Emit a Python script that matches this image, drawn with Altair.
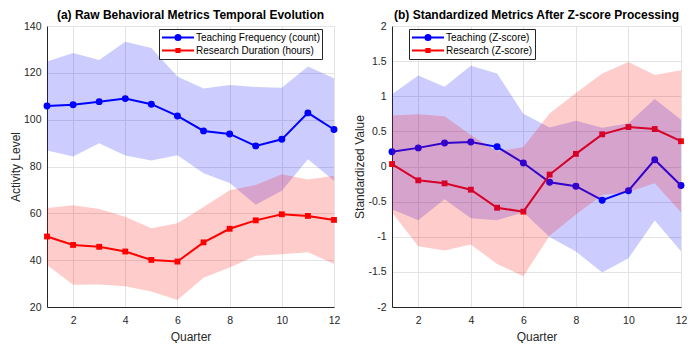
import altair as alt
import pandas as pd

quarters = list(range(1, 13))

# Panel (a): raw metrics (mean and spread)
teach_mean = [105.8, 106.4, 107.7, 109.0, 106.6, 101.6, 95.2, 93.9, 88.8, 91.6, 102.9, 95.8]
teach_std = [19.0, 22.1, 17.8, 24.3, 24.0, 16.8, 18.1, 20.9, 25.1, 22.0, 19.8, 21.9]
res_mean = [50.1, 46.5, 45.7, 43.7, 40.1, 39.4, 47.6, 53.4, 57.0, 59.6, 58.9, 57.2]
res_std = [12.2, 17.0, 16.1, 14.8, 13.5, 16.4, 15.1, 16.5, 15.1, 17.1, 15.5, 18.8]

# Panel (b): z-scores (mean and spread)
tz_mean = [0.21, 0.265, 0.335, 0.35, 0.28, 0.05, -0.225, -0.28, -0.48, -0.345, 0.095, -0.27]
tz_std = [0.82, 1.03, 0.80, 1.085, 1.045, 0.70, 0.78, 0.93, 1.03, 0.96, 0.865, 0.935]
rz_mean = [0.035, -0.197, -0.24, -0.33, -0.587, -0.643, -0.115, 0.18, 0.458, 0.562, 0.533, 0.36]
rz_std = [0.69, 0.94, 0.955, 0.78, 0.80, 0.92, 0.87, 0.865, 0.865, 0.925, 0.77, 1.01]

series_a = ["Teaching Frequency (count)", "Research Duration (hours)"]
series_b = ["Teaching (Z-score)", "Research (Z-score)"]
colors = ["#0000ff", "#ff0000"]
band_colors = ["#0000ff", "#ff0000"]

FONT = "Liberation Sans"
AX = "#262626"

# legend symbols: line with marker (normalized path, scaled by sqrt(size)/2)
leg_circle = "M-1,0L1,0M0.16,0A0.16,0.16,0,1,1,-0.16,0A0.16,0.16,0,1,1,0.16,0Z"
leg_square = "M-1,0L1,0M-0.1,-0.1L0.1,-0.1L0.1,0.1L-0.1,0.1Z"


def make_df(names, means, stds):
    rows = []
    for name, m, s in zip(names, means, stds):
        for q, mv, sv in zip(quarters, m, s):
            rows.append({"quarter": q, "series": name, "mean": mv,
                         "lo": mv - sv, "hi": mv + sv})
    return pd.DataFrame(rows)


def panel(df, names, title, ytitle, ydomain, ystep, legx, width):
    xenc = alt.X("quarter:Q", scale=alt.Scale(domain=[1, 12], nice=False),
                 axis=alt.Axis(values=[2, 4, 6, 8, 10, 12], title="Quarter",
                               labelFlush=False))
    yvals = []
    v = ydomain[0]
    while v <= ydomain[1] + 1e-9:
        yvals.append(round(v, 3))
        v += ystep
    yaxis = alt.Axis(values=yvals, title=ytitle, labelExpr="datum.value + ''")
    yscale = alt.Scale(domain=ydomain, nice=False)
    base = alt.Chart(df)
    layers = []
    shapes = ["circle", "square"]
    sizes = [48, 34]
    for i, name in enumerate(names):
        sub = base.transform_filter(alt.datum.series == name)
        layers.append(sub.mark_line(color=colors[i], strokeWidth=2).encode(
            x=xenc, y=alt.Y("mean:Q", scale=yscale, axis=yaxis)))
        layers.append(sub.mark_point(filled=True, shape=shapes[i], size=sizes[i],
                                     color=colors[i], opacity=1).encode(
            x=xenc, y=alt.Y("mean:Q", scale=yscale, axis=yaxis)))
    for i, name in enumerate(names):
        sub = base.transform_filter(alt.datum.series == name)
        layers.append(sub.mark_area(color=band_colors[i], opacity=0.2).encode(
            x=xenc, y=alt.Y("lo:Q", scale=yscale, axis=yaxis), y2="hi:Q"))
    leg = alt.Legend(title=None, orient="none", legendX=legx, legendY=3,
                     strokeColor=AX, fillColor="white", padding=2,
                     labelFont=FONT, labelFontSize=10, labelColor="#000000",
                     clipHeight=13, rowPadding=0, labelOffset=1,
                     symbolSize=1024, symbolStrokeWidth=2, cornerRadius=0)
    legend_layer = base.transform_filter("false").mark_point(
        filled=True, opacity=1, size=1024, strokeWidth=2).encode(
        x=xenc, y=alt.Y("mean:Q", scale=yscale, axis=yaxis),
        fill=alt.Fill("series:N", scale=alt.Scale(domain=names, range=colors), legend=leg),
        stroke=alt.Stroke("series:N", scale=alt.Scale(domain=names, range=colors), legend=leg),
        shape=alt.Shape("series:N", scale=alt.Scale(domain=names, range=[leg_circle, leg_square]), legend=leg),
    )
    layers.append(legend_layer)
    return alt.layer(*layers).properties(
        width=width, height=281,
        title=alt.TitleParams(title, font=FONT, fontSize=12, fontWeight="bold",
                              color="#000000", offset=-1, anchor="middle"))


df_a = make_df(series_a, [teach_mean, res_mean], [teach_std, res_std])
df_b = make_df(series_b, [tz_mean, rz_mean], [tz_std, rz_std])

pa = panel(df_a, series_a, "(a) Raw Behavioral Metrics Temporal Evolution",
           "Activity Level", [20, 140], 20, 112, 287)
pb = panel(df_b, series_b, "(b) Standardized Metrics After Z-score Processing",
           "Standardized Value", [-2, 2], 0.5, 17, 289)

chart = alt.hconcat(pa, pb, spacing=12).resolve_scale(
    fill="independent", stroke="independent", shape="independent"
).resolve_legend(
    fill="independent", stroke="independent", shape="independent"
).properties(padding=0).configure_view(
    stroke="#dadada", strokeWidth=1
).configure_axis(
    labelFont=FONT, labelFontSize=10.5, labelColor=AX,
    titleFont=FONT, titleFontSize=12, titleColor=AX, titleFontWeight="normal",
    domainColor=AX, domainWidth=1, gridColor="#e3e3e3", gridWidth=1,
    ticks=False, labelPadding=8
).configure_axisX(titlePadding=6).configure_axisY(titlePadding=1, labelPadding=6)

chart.save("out.html", embed_options={"renderer": "svg", "actions": False})
